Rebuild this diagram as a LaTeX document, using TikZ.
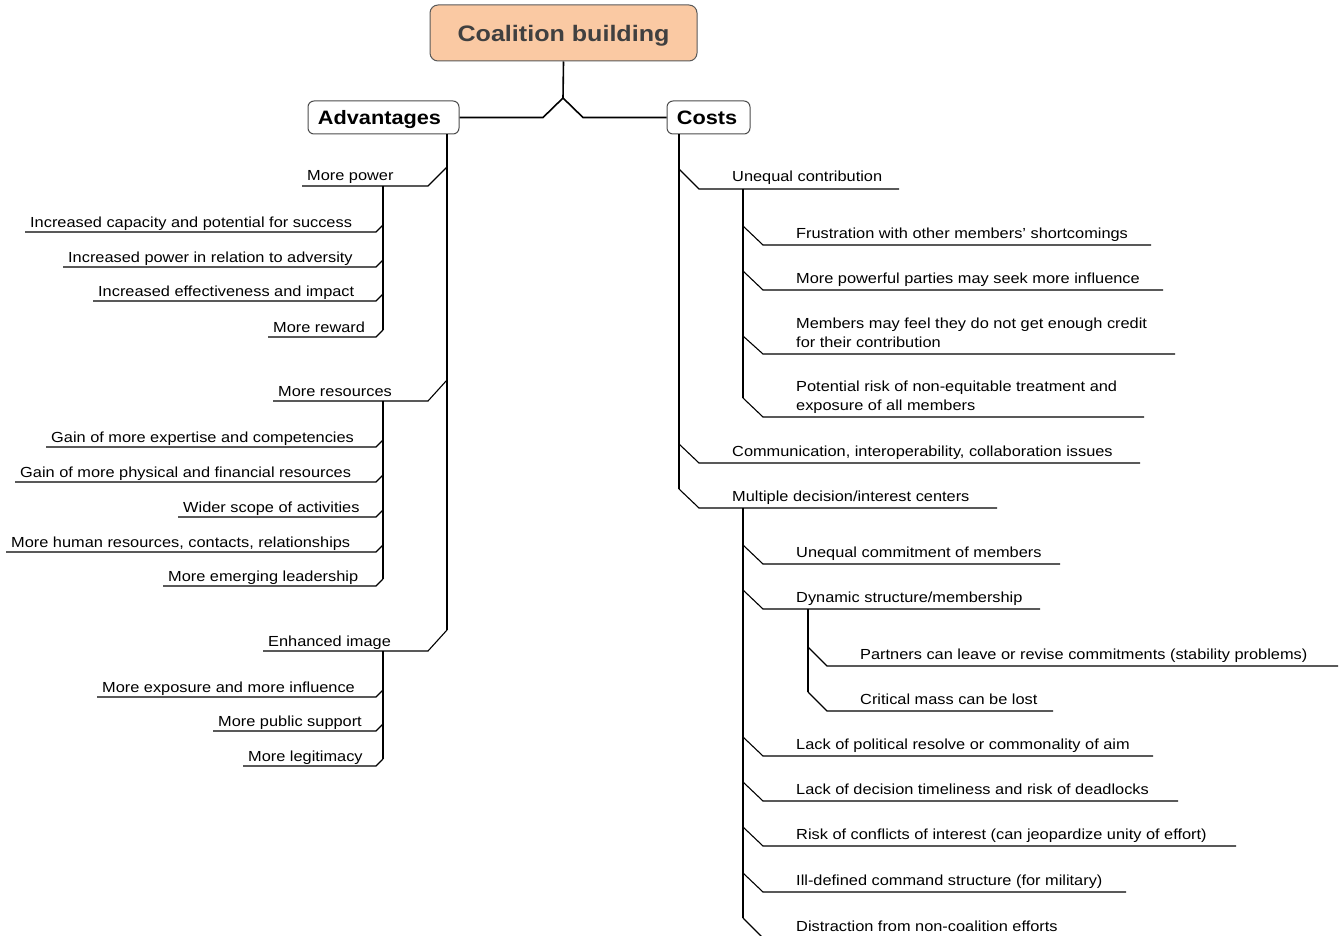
\documentclass[tikz,border=0pt]{standalone}
\usepackage{fontspec}
\setmainfont{Liberation Sans}[FakeStretch=1.12]
\begin{document}
\begin{tikzpicture}[x=1pt,y=-1pt,
  ul/.style={line width=1.1pt,black},
  trunk/.style={line width=1.6pt,black},
  ltext/.style={anchor=base west,inner sep=0pt,font=\fontsize{14.6}{19}\selectfont},
  rtext/.style={anchor=base west,inner sep=0pt,align=left,font=\fontsize{14.6}{19}\selectfont},
  rootbox/.style={draw=black!65,line width=1pt,rounded corners=8pt,fill={rgb,255:red,250;green,201;blue,163},
    text={rgb,255:red,64;green,64;blue,64},font=\fontsize{22.4}{26}\selectfont\bfseries,
    minimum width=267pt,minimum height=56pt,inner sep=0pt,text depth=0pt},
  hbox/.style={draw=black!70,line width=1pt,rounded corners=6pt,fill=white,
    font=\fontsize{19.4}{23}\selectfont\bfseries,minimum height=33pt,inner sep=0pt,text depth=0pt}
]
\useasboundingbox (0,0) rectangle (1340,936);
\clip (0,0) rectangle (1340,936);

\newcommand{\litem}[7]{%
  \coordinate (#1-d) at (#2,#3);
  \coordinate (#1-c) at (#4,#5);
  \coordinate (#1-e) at (#6,#5);
  \node[ltext] (#1) at (#6+5,#5-5) {#7};
  \draw[ul] (#1-d) -- (#1-c) -- (#1-e);}
\newcommand{\ritem}[7]{%
  \coordinate (#1-d) at (#2,#3);
  \coordinate (#1-c) at (#4,#5);
  \coordinate (#1-e) at (#6,#5);
  \node[rtext] (#1) at (#4+33,#5-7) {#7};
  \draw[ul] (#1-d) -- (#1-c) -- (#1-e);}
\newcommand{\rtwo}[8]{%
  \coordinate (#1-d) at (#2,#3);
  \coordinate (#1-c) at (#4,#5);
  \coordinate (#1-e) at (#6,#5);
  \node[ltext] (#1a) at (#4+33,#5-26) {#7};
  \node[ltext] (#1b) at (#4+33,#5-7) {#8};
  \draw[ul] (#1-d) -- (#1-c) -- (#1-e);}

% boxes
\node[rootbox] (root) at (563.5,33) {Coalition building};
\node[hbox,minimum width=151pt] (adv) at (383.5,117.5) {\hspace*{-8pt}Advantages};
\node[hbox,minimum width=83pt] (costs) at (708.5,117.5) {\hspace*{-3pt}Costs};

\coordinate (fork) at (563,98);
\coordinate (forkl) at (543,117.5);
\coordinate (forkr) at (583,117.5);
\draw[trunk] (root.south) -- (fork);
\draw[trunk] (fork) -- (forkl) -- (adv.east);
\draw[trunk] (fork) -- (forkr) -- (costs.west);

% Advantages
\litem{mp}{447}{167}{428}{186}{302}{More power}
\litem{mp1}{383}{225}{376}{232}{25}{Increased capacity and potential for success}
\litem{mp2}{383}{260}{376}{267}{63}{Increased power in relation to adversity}
\litem{mp3}{383}{294}{376}{301}{93}{Increased effectiveness and impact}
\litem{mp4}{383}{330}{376}{337}{268}{More reward}
\litem{mr}{447}{380}{428}{401}{273}{More resources}
\litem{mr1}{383}{440}{376}{447}{46}{Gain of more expertise and competencies}
\litem{mr2}{383}{475}{376}{482}{15}{Gain of more physical and financial resources}
\litem{mr3}{383}{510}{376}{517}{178}{Wider scope of activities}
\litem{mr4}{383}{545}{376}{552}{6}{More human resources, contacts, relationships}
\litem{mr5}{383}{579}{376}{586}{163}{More emerging leadership}
\litem{ei}{447}{630}{428}{651}{263}{Enhanced image}
\litem{ei1}{383}{690}{376}{697}{97}{More exposure and more influence}
\litem{ei2}{383}{724}{376}{731}{213}{More public support}
\litem{ei3}{383}{759}{376}{766}{243}{More legitimacy}

\draw[trunk] (adv.south -| ei-d) -- (ei-d);
\draw[trunk] (mp1-d |- mp-c) -- (mp4-d);
\draw[trunk] (mr1-d |- mr-c) -- (mr5-d);
\draw[trunk] (ei1-d |- ei-c) -- (ei3-d);

% Costs
\ritem{uc}{679}{169}{699}{189}{899}{Unequal contribution}
\ritem{uc1}{743}{226}{763}{245}{1151}{Frustration with other members' shortcomings}
\ritem{uc2}{743}{271}{763}{290}{1163}{More powerful parties may seek more influence}
\rtwo{uc3}{743}{336}{763}{354}{1175}{Members may feel they do not get enough credit}{for their contribution}
\rtwo{uc4}{743}{398}{763}{417}{1144}{Potential risk of non-equitable treatment and}{exposure of all members}
\ritem{cm}{679}{444}{699}{463}{1140}{Communication, interoperability, collaboration issues}
\ritem{md}{679}{489}{699}{508}{997}{Multiple decision/interest centers}
\ritem{md1}{743}{545}{763}{564}{1060}{Unequal commitment of members}
\ritem{md2}{743}{590}{763}{609}{1040}{Dynamic structure/membership}
\ritem{md21}{808}{647}{827}{666}{1338}{Partners can leave or revise commitments (stability problems)}
\ritem{md22}{808}{692}{827}{711}{1053}{Critical mass can be lost}
\ritem{md3}{743}{737}{763}{756}{1153}{Lack of political resolve or commonality of aim}
\ritem{md4}{743}{782}{763}{801}{1178}{Lack of decision timeliness and risk of deadlocks}
\ritem{md5}{743}{827}{763}{846}{1236}{Risk of conflicts of interest (can jeopardize unity of effort)}
\ritem{md6}{743}{873}{763}{892}{1126}{Ill-defined command structure (for military)}
\ritem{md7}{743}{918}{763}{938}{1090}{Distraction from non-coalition efforts}

\draw[trunk] (costs.south -| md-d) -- (md-d);
\draw[trunk] (uc1-d |- uc-c) -- (uc4-d);
\draw[trunk] (md1-d |- md-c) -- (md7-d);
\draw[trunk] (md21-d |- md2-c) -- (md22-d);
\end{tikzpicture}
\end{document}
